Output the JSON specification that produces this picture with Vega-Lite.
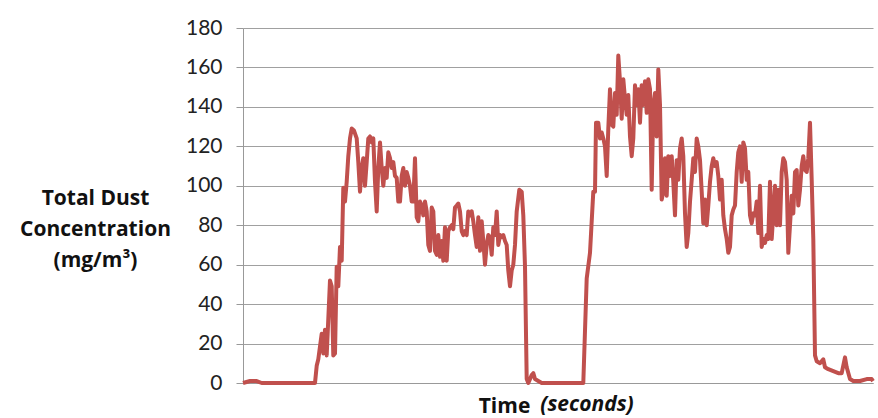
{
 "$schema": "https://vega.github.io/schema/vega-lite/v6.json",
 "width": 630,
 "height": 355,
 "autosize": {"type": "none"},
 "padding": {"left": 243, "top": 28, "right": 5, "bottom": 35},
 "config": {"view": {"stroke": null}, "font": "Lato"},
 "title": {"text": "(seconds)", "orient": "bottom", "anchor": "middle", "fontStyle": "italic", "fontWeight": "bold", "fontSize": 21, "font": "Open Sans", "dx": 29, "dy": -26, "color": "#111111"},
 "data": {"values": [
  {"t":5,"v":0},{"t":12,"v":1},{"t":18.7,"v":1},{"t":23.7,"v":0},{"t":77,"v":0},{"t":78.7,"v":8.7},{"t":80.3,"v":12},{"t":83.7,"v":25},{"t":85.3,"v":15},{"t":87,"v":27},{"t":88.7,"v":14},{"t":92,"v":52},{"t":93.7,"v":49},{"t":95.3,"v":14},{"t":97,"v":15},{"t":98.7,"v":59},{"t":100.3,"v":49},{"t":102,"v":69},{"t":103.7,"v":62},{"t":105.3,"v":99},{"t":107,"v":92},{"t":108.7,"v":102},{"t":110.3,"v":115},{"t":112,"v":124},{"t":113.7,"v":129},{"t":116,"v":128},{"t":118.7,"v":124},{"t":120.3,"v":112},{"t":122,"v":97},{"t":123.7,"v":109},{"t":125.3,"v":114},{"t":127,"v":100},{"t":128.7,"v":112},{"t":130.3,"v":124},{"t":132,"v":125},{"t":133.7,"v":122},{"t":135.3,"v":124},{"t":137,"v":102},{"t":138.7,"v":87},{"t":140.3,"v":109},{"t":142,"v":122},{"t":143.7,"v":109},{"t":145.3,"v":100},{"t":147,"v":109},{"t":148.7,"v":104},{"t":150.3,"v":117},{"t":152,"v":114},{"t":153.7,"v":109},{"t":155.3,"v":112},{"t":157,"v":105},{"t":158.7,"v":104},{"t":160.3,"v":92},{"t":162,"v":92},{"t":163.7,"v":105},{"t":165.3,"v":109},{"t":167,"v":100},{"t":168.7,"v":107},{"t":170.3,"v":104},{"t":172,"v":100},{"t":173.7,"v":92},{"t":175.3,"v":92},{"t":177,"v":114},{"t":178.7,"v":84},{"t":180.3,"v":82},{"t":182,"v":92},{"t":183.7,"v":90},{"t":185.3,"v":85},{"t":187,"v":92},{"t":188.7,"v":87},{"t":190.3,"v":70},{"t":192,"v":67},{"t":193.7,"v":89},{"t":195.3,"v":87},{"t":197,"v":67},{"t":198.7,"v":65},{"t":200.3,"v":75},{"t":202,"v":64},{"t":203.7,"v":72},{"t":205.3,"v":62},{"t":207,"v":79},{"t":208.7,"v":62},{"t":210.3,"v":77},{"t":212,"v":79},{"t":213.7,"v":80},{"t":215.3,"v":78},{"t":217,"v":89},{"t":218.7,"v":90},{"t":220.3,"v":91},{"t":222,"v":87},{"t":223.7,"v":77},{"t":225.3,"v":75},{"t":227,"v":77},{"t":228.7,"v":75},{"t":230.3,"v":87},{"t":232,"v":85},{"t":233.7,"v":87},{"t":235.3,"v":82},{"t":237,"v":75},{"t":238.7,"v":69},{"t":240.3,"v":84},{"t":242,"v":67},{"t":243.7,"v":82},{"t":245.3,"v":72},{"t":247,"v":60},{"t":248.7,"v":70},{"t":250.3,"v":75},{"t":252,"v":74},{"t":253.7,"v":65},{"t":255.3,"v":79},{"t":257,"v":75},{"t":258.7,"v":87},{"t":260.3,"v":70},{"t":262,"v":75},{"t":263.7,"v":74},{"t":265.3,"v":75},{"t":267,"v":72},{"t":268.7,"v":70},{"t":270.3,"v":57},{"t":272,"v":49},{"t":273.7,"v":57},{"t":275.3,"v":60},{"t":277,"v":70},{"t":278.7,"v":87},{"t":281.3,"v":98},{"t":283.7,"v":97},{"t":285.3,"v":85},{"t":287,"v":59},{"t":288,"v":25},{"t":288.7,"v":2},{"t":290.3,"v":0},{"t":293.7,"v":4},{"t":295.3,"v":5},{"t":297,"v":2},{"t":300.3,"v":1},{"t":303.7,"v":0},
  {"t":345.3,"v":0},{"t":348.7,"v":53},{"t":352,"v":66},{"t":355.3,"v":97},{"t":357,"v":97},{"t":358,"v":132},{"t":360.3,"v":132},{"t":362,"v":124},{"t":363.7,"v":127},{"t":365.3,"v":124},{"t":367,"v":120},{"t":368.7,"v":105},{"t":370.3,"v":129},{"t":372,"v":149},{"t":373.7,"v":131},{"t":375.3,"v":130},{"t":377,"v":147},{"t":378.7,"v":136},{"t":380.3,"v":166},{"t":382,"v":153},{"t":383.7,"v":134},{"t":385.3,"v":154},{"t":387,"v":144},{"t":388.7,"v":136},{"t":390.3,"v":146},{"t":392,"v":125},{"t":393.7,"v":115},{"t":395.3,"v":124},{"t":397,"v":151},{"t":398.7,"v":141},{"t":400.3,"v":149},{"t":402,"v":132},{"t":403.7,"v":151},{"t":405.3,"v":141},{"t":407,"v":153},{"t":408.7,"v":137},{"t":410.3,"v":154},{"t":412,"v":149},{"t":413.7,"v":98},{"t":415.3,"v":141},{"t":417,"v":147},{"t":418.7,"v":125},{"t":420.3,"v":159},{"t":422,"v":141},{"t":423.7,"v":93},{"t":425.3,"v":97},{"t":427,"v":114},{"t":428.7,"v":95},{"t":430.3,"v":115},{"t":432,"v":105},{"t":433.7,"v":115},{"t":435.3,"v":102},{"t":437,"v":85},{"t":438.7,"v":113},{"t":440.3,"v":103},{"t":442,"v":119},{"t":443.7,"v":124},{"t":445.3,"v":115},{"t":447,"v":86},{"t":448.7,"v":69},{"t":450.3,"v":76},{"t":452,"v":92},{"t":453.7,"v":103},{"t":455.3,"v":114},{"t":457,"v":107},{"t":458.7,"v":124},{"t":460.3,"v":120},{"t":462,"v":113},{"t":463.7,"v":97},{"t":465.3,"v":81},{"t":467,"v":93},{"t":468.7,"v":80},{"t":470.3,"v":90},{"t":472,"v":102},{"t":473.7,"v":110},{"t":475.3,"v":114},{"t":477,"v":110},{"t":478.7,"v":112},{"t":480.3,"v":105},{"t":482,"v":93},{"t":483.7,"v":103},{"t":485.3,"v":85},{"t":487,"v":78},{"t":488.7,"v":73},{"t":490.3,"v":66},{"t":492,"v":69},{"t":493.7,"v":85},{"t":495.3,"v":88},{"t":497,"v":90},{"t":498.7,"v":107},{"t":500.3,"v":117},{"t":502,"v":120},{"t":503.7,"v":102},{"t":505.3,"v":122},{"t":507,"v":119},{"t":508.7,"v":103},{"t":510.3,"v":107},{"t":512,"v":85},{"t":513.7,"v":81},{"t":515.3,"v":86},{"t":517,"v":85},{"t":518.7,"v":92},{"t":520.3,"v":76},{"t":522,"v":100},{"t":523.7,"v":69},{"t":525.3,"v":73},{"t":527,"v":71},{"t":528.7,"v":75},{"t":530.3,"v":73},{"t":532,"v":102},{"t":533.7,"v":73},{"t":535.3,"v":86},{"t":537,"v":100},{"t":538.7,"v":80},{"t":540.3,"v":98},{"t":542,"v":80},{"t":543.7,"v":107},{"t":545.3,"v":114},{"t":547,"v":112},{"t":548.7,"v":103},{"t":550.3,"v":66},{"t":552,"v":80},{"t":553.7,"v":95},{"t":555.3,"v":86},{"t":557,"v":107},{"t":558.7,"v":108},{"t":560.3,"v":90},{"t":562,"v":98},{"t":563.7,"v":110},{"t":565.3,"v":115},{"t":567,"v":108},{"t":568.7,"v":107},{"t":570.3,"v":114},{"t":572,"v":132},{"t":573.7,"v":103},{"t":575.3,"v":73},{"t":577,"v":14},{"t":578.7,"v":11},{"t":582,"v":10},{"t":585.3,"v":12},{"t":587,"v":8},{"t":590.3,"v":7},{"t":595.3,"v":6},{"t":600.3,"v":5},{"t":603.7,"v":5},{"t":607,"v":13},{"t":608.7,"v":8},{"t":612,"v":2},{"t":615.3,"v":1},{"t":622,"v":1},{"t":628.7,"v":2},{"t":633.7,"v":2},{"t":635,"v":1}
 ]},
 "mark": {"type": "line", "color": "#C0504D", "strokeWidth": 4, "strokeJoin": "round"},
 "encoding": {
  "x": {"field": "t", "type": "quantitative", "scale": {"domain": [5, 635], "nice": false, "zero": false},
   "axis": {"title": "Time", "labels": false, "ticks": false, "grid": false, "domainColor": "#999999", "titleFont": "Open Sans", "titleFontSize": 21, "titleFontWeight": "bold", "titleX": 261, "titleY": 29, "titleBaseline": "alphabetic", "titleColor": "#111111"}},
  "y": {"field": "v", "type": "quantitative", "scale": {"domain": [0, 180], "nice": false},
   "axis": {"values": [0, 20, 40, 60, 80, 100, 120, 140, 160, 180], "grid": true, "gridColor": "#A0A0A0", "domainColor": "#999999", "tickColor": "#999999", "tickSize": 7, "labelPadding": 14, "labelFont": "Lato", "labelFontSize": 21, "labelColor": "#222222",
    "title": ["Total Dust", "Concentration", "(mg/m³)"], "titleAngle": 0, "titleAlign": "center", "titleBaseline": "middle", "titleX": -148, "titleY": 170, "titleFont": "Open Sans", "titleFontSize": 21, "titleFontWeight": "bold", "titleLineHeight": 31, "titleColor": "#111111"}}
 }
}
